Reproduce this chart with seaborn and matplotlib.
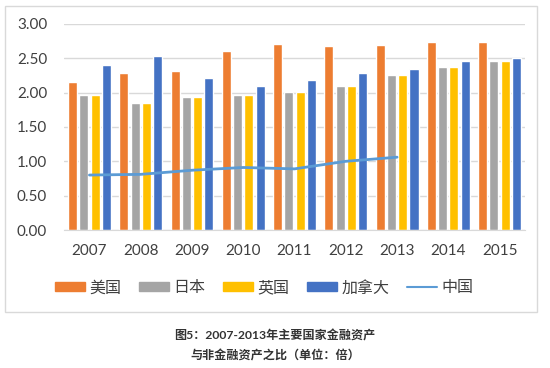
import numpy as np
import pandas as pd
import matplotlib.pyplot as plt
import seaborn as sns
from matplotlib.patches import Patch, Rectangle
from matplotlib.lines import Line2D

# data
years = ["2007", "2008", "2009", "2010", "2011", "2012", "2013", "2014", "2015"]
countries = ["美国", "日本", "英国", "加拿大"]
usa = [2.16, 2.29, 2.32, 2.60, 2.71, 2.68, 2.70, 2.73, 2.73]
japan = [1.96, 1.85, 1.93, 1.97, 2.01, 2.10, 2.26, 2.38, 2.46]
uk = [1.96, 1.85, 1.93, 1.97, 2.01, 2.10, 2.26, 2.38, 2.46]
canada = [2.40, 2.53, 2.22, 2.10, 2.18, 2.28, 2.35, 2.46, 2.50]
china_years = ["2007", "2008", "2009", "2010", "2011", "2012", "2013"]
china = [0.80, 0.81, 0.87, 0.91, 0.89, 1.00, 1.06]

bar_colors = ["#ED7D31", "#A5A5A5", "#FFC000", "#4472C4"]
line_color = "#5B9BD5"

rows = []
for name, vals in zip(countries, [usa, japan, uk, canada]):
    for y, v in zip(years, vals):
        rows.append({"year": y, "country": name, "value": v})
df = pd.DataFrame(rows)

china_df = pd.DataFrame({"pos": [years.index(y) for y in china_years], "value": china})

sns.set_style("white")
plt.rcParams["font.family"] = ["Lato", "Noto Sans CJK SC", "DejaVu Sans"]

fig = plt.figure(figsize=(5.5, 3.68), dpi=100)
ax = fig.add_axes([0.116, 0.375, 0.839, 0.56])

sns.barplot(data=df, x="year", y="value", hue="country", order=years,
            hue_order=countries, palette=bar_colors, width=0.88, gap=0.2,
            saturation=1, legend=False, ax=ax)
sns.lineplot(data=china_df, x="pos", y="value", color=line_color,
             linewidth=2, ax=ax)

ax.set_ylim(0, 3)
ax.set_yticks(np.arange(0, 3.01, 0.5))
ax.set_yticklabels([f"{t:.2f}" for t in np.arange(0, 3.01, 0.5)])
ax.set_xlim(-0.5, len(years) - 0.5)
ax.set_xlabel("")
ax.set_ylabel("")
ax.yaxis.grid(True, color="#D9D9D9", linewidth=1)
ax.set_axisbelow(True)
for s in ["top", "right", "left"]:
    ax.spines[s].set_visible(False)
ax.spines["bottom"].set_color("#D9D9D9")
ax.tick_params(axis="both", length=0, labelsize=11, colors="#404040")
ax.tick_params(axis="x", pad=10)
ax.tick_params(axis="y", pad=12)

# legend
handles = [Patch(color=c) for c in bar_colors]
handles.append(Line2D([], [], color=line_color, linewidth=1.5))
fig.legend(handles, countries + ["中国"], loc="center", bbox_to_anchor=(0.48, 0.218),
           ncol=5, frameon=False, fontsize=11.5, handlelength=1.9, handleheight=0.5,
           columnspacing=1.1, handletextpad=0.25, labelcolor="#404040")

# chart border
fig.patches.append(Rectangle((0.009, 0.152), 0.967, 0.832, transform=fig.transFigure,
                             fill=False, edgecolor="#D9D9D9", linewidth=1))

# caption
fig.text(0.5, 0.088, "图5：2007-2013年主要国家金融资产", ha="center", va="center",
         fontsize=8.7, fontweight="bold", color="#333333")
fig.text(0.5, 0.035, "与非金融资产之比（单位：倍）", ha="center", va="center",
         fontsize=8.7, fontweight="bold", color="#333333")

plt.savefig("out.png", dpi=100)
plt.close()
